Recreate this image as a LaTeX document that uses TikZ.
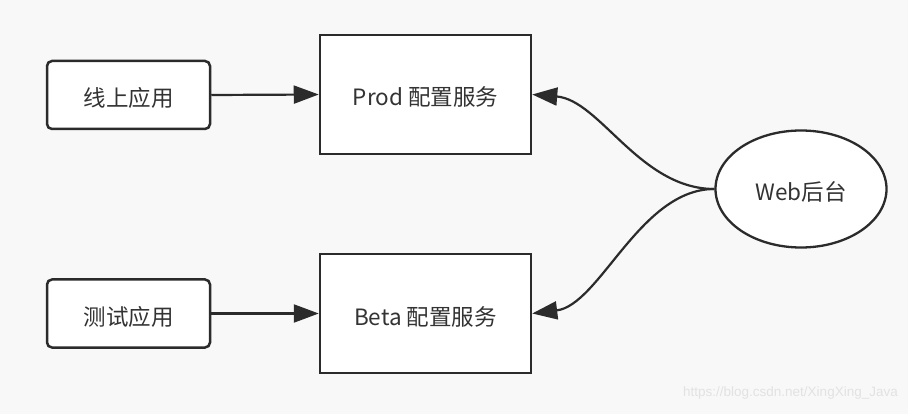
\documentclass[tikz,border=0pt]{standalone}
\usepackage{fontspec}
\setmainfont{Noto Sans CJK SC}
\newfontfamily\wmfont{Liberation Sans}
\usetikzlibrary{arrows.meta,shapes.geometric}
\definecolor{bg}{HTML}{F8F8F8}
\definecolor{ln}{HTML}{2B2B2B}
\definecolor{txt}{HTML}{333333}
\definecolor{wm}{HTML}{E2E2E2}
\tikzset{
  lbl/.style={text=txt, font=\fontsize{22.5}{26}\selectfont, text height=26pt, text depth=3pt},
  appbox/.style={draw=ln, line width=2.5pt, fill=white, rounded corners=5pt,
    minimum width=163pt, minimum height=68pt, inner sep=0pt, lbl},
  svcbox/.style={draw=ln, line width=2.5pt, fill=white,
    minimum width=211pt, minimum height=119pt, inner sep=0pt, lbl},
  webell/.style={draw=ln, line width=2.3pt, fill=white, ellipse,
    minimum width=171pt, minimum height=117pt, inner sep=0pt, lbl},
  conn/.style={draw=ln, line width=2.2pt, -{Triangle[length=25pt,width=18pt]}},
}
\begin{document}
\begin{tikzpicture}[x=1pt,y=-1pt]
\fill[bg] (0,0) rectangle (908,414);
\useasboundingbox (0,0) rectangle (908,414);
\node[appbox] (online) at (128.5,95) {线上应用};
\node[appbox] (test) at (128.5,313.5) {测试应用};
\node[svcbox] (prod) at (425.5,94.5) {Prod 配置服务};
\node[svcbox] (beta) at (425.5,313.5) {Beta 配置服务};
\node[webell] (web) at (801,189) {Web后台};
\draw[conn] (online.east) -- (prod.west);
\draw[conn] (test.east) -- (beta.west);
\draw[conn] (web.west) .. controls (640,189) and (600,100) .. (prod.east);
\draw[conn] (web.west) .. controls (640,189) and (600,305) .. (beta.east);
\node[text=wm, font=\wmfont\fontsize{13.5}{15}\selectfont, anchor=east, inner sep=0pt] (wmk) at (898,393) {https://blog.csdn.net/XingXing\_Java};
\end{tikzpicture}
\end{document}
